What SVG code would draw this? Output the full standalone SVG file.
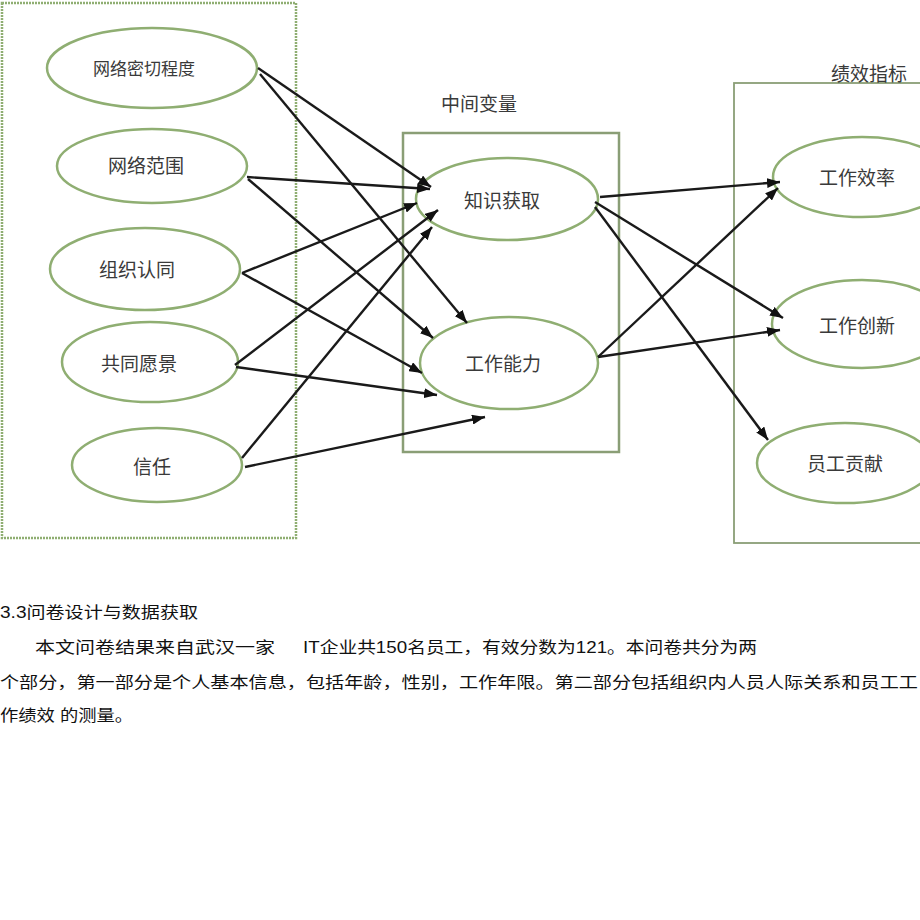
<svg xmlns="http://www.w3.org/2000/svg" width="920" height="920" viewBox="0 0 920 920">
<style>
.bg{fill:#ffffff}
.node ellipse{fill:#ffffff;stroke:#8fae72;stroke-width:2.5}
.lbl{font-family:"Noto Sans CJK SC","Noto Sans",sans-serif;font-size:19px;fill:#3a3a3a;text-anchor:middle;dominant-baseline:central}
.hdr{font-family:"Noto Sans CJK SC","Noto Sans",sans-serif;font-size:19px;fill:#3a3a3a;text-anchor:middle;dominant-baseline:central}
.para{font-family:"Liberation Sans","Noto Sans CJK SC",sans-serif;font-size:16px;fill:#111}
.edge line{stroke:#1a1a1a;stroke-width:2.4}
</style>
<defs>
<marker id="ah" markerUnits="userSpaceOnUse" markerWidth="14" markerHeight="10" refX="13" refY="5" orient="auto">
<path d="M0,0 L13,5 L0,10 z" fill="#111"/>
</marker>
</defs>
<rect class="bg" x="0" y="0" width="920" height="920"/>

<g id="group-left">
<rect x="2" y="3" width="294" height="535" fill="none" stroke="#8fae72" stroke-width="2.5" stroke-dasharray="2,1"/>
</g>
<g id="group-middle">
<rect x="403" y="133" width="216" height="319" fill="none" stroke="#8a9e76" stroke-width="2.5"/>
<text class="hdr" x="479" y="102">中间变量</text>
</g>
<g id="group-right">
<rect x="734" y="83" width="200" height="460" fill="none" stroke="#8a9e76" stroke-width="1.8"/>
<text class="hdr" x="869" y="72">绩效指标</text>
</g>

<g id="n1" class="node"><ellipse cx="152" cy="68" rx="105" ry="40"/><text class="lbl" x="144" y="67" style="font-size:17px">网络密切程度</text></g>
<g id="n2" class="node"><ellipse cx="152" cy="166" rx="95" ry="37"/><text class="lbl" x="146" y="164">网络范围</text></g>
<g id="n3" class="node"><ellipse cx="145" cy="269" rx="95" ry="41"/><text class="lbl" x="137" y="268">组织认同</text></g>
<g id="n4" class="node"><ellipse cx="150" cy="362" rx="88" ry="40"/><text class="lbl" x="139" y="362">共同愿景</text></g>
<g id="n5" class="node"><ellipse cx="157" cy="465" rx="85" ry="37"/><text class="lbl" x="152" y="465">信任</text></g>

<g id="m1" class="node"><ellipse cx="507" cy="199" rx="91" ry="41"/><text class="lbl" x="502" y="199">知识获取</text></g>
<g id="m2" class="node"><ellipse cx="509" cy="363" rx="89" ry="46"/><text class="lbl" x="503" y="362">工作能力</text></g>

<g id="r1" class="node"><ellipse cx="862" cy="177" rx="89" ry="40"/><text class="lbl" x="857" y="176">工作效率</text></g>
<g id="r2" class="node"><ellipse cx="862" cy="324" rx="90" ry="44"/><text class="lbl" x="857" y="324">工作创新</text></g>
<g id="r3" class="node"><ellipse cx="845" cy="463" rx="88" ry="40"/><text class="lbl" x="845" y="462">员工贡献</text></g>

<g id="connectors" class="edge">
<line x1="258" y1="68" x2="431" y2="187" marker-end="url(#ah)"/>
<line x1="260" y1="74" x2="467" y2="323" marker-end="url(#ah)"/>
<line x1="247" y1="177" x2="430" y2="189" marker-end="url(#ah)"/>
<line x1="248" y1="179" x2="433" y2="338" marker-end="url(#ah)"/>
<line x1="242" y1="273" x2="417" y2="203" marker-end="url(#ah)"/>
<line x1="242" y1="273" x2="422" y2="373" marker-end="url(#ah)"/>
<line x1="235" y1="365" x2="438" y2="210" marker-end="url(#ah)"/>
<line x1="236" y1="367" x2="437" y2="395" marker-end="url(#ah)"/>
<line x1="242" y1="458" x2="432" y2="227" marker-end="url(#ah)"/>
<line x1="245" y1="467" x2="485" y2="417" marker-end="url(#ah)"/>
<line x1="600" y1="197" x2="780" y2="182" marker-end="url(#ah)"/>
<line x1="595" y1="202" x2="783" y2="318" marker-end="url(#ah)"/>
<line x1="595" y1="207" x2="768" y2="440" marker-end="url(#ah)"/>
<line x1="598" y1="357" x2="778" y2="188" marker-end="url(#ah)"/>
<line x1="598" y1="357" x2="780" y2="330" marker-end="url(#ah)"/>
</g>

<g id="paragraph">
<text class="para" x="0" y="618" textLength="198" lengthAdjust="spacingAndGlyphs">3.3问卷设计与数据获取</text>
<text class="para" x="35" y="653" textLength="240" lengthAdjust="spacingAndGlyphs">本文问卷结果来自武汉一家</text>
<text class="para" x="303" y="653" textLength="454" lengthAdjust="spacingAndGlyphs">IT企业共150名员工，有效分数为121。本问卷共分为两</text>
<text class="para" x="0" y="688" textLength="918" lengthAdjust="spacingAndGlyphs">个部分，第一部分是个人基本信息，包括年龄，性别，工作年限。第二部分包括组织内人员人际关系和员工工</text>
<text class="para" x="0" y="721" textLength="133" lengthAdjust="spacingAndGlyphs">作绩效 的测量。</text>
</g>
</svg>
